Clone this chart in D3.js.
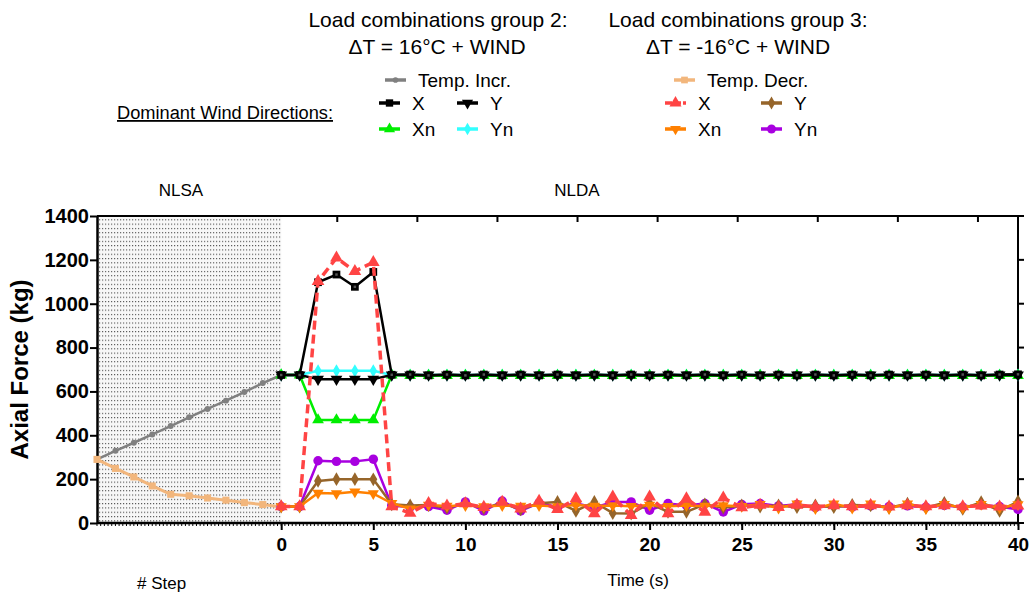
<!DOCTYPE html>
<html><head><meta charset="utf-8">
<script src="https://cdn.jsdelivr.net/npm/d3@7"></script>
<style>body{margin:0;background:#fff}svg{display:block;font-family:"Liberation Sans",Arial,sans-serif}</style>
</head><body>
<script>
// ---------- data ----------
const steps = [-10,-9,-8,-7,-6,-5,-4,-3,-2,-1,0];
const tempIncr = [290,329,366,404,442,482,520,558,597,638,675];
const tempDecr = [290,249,210,169,131,124,114,104,93,84,73];

const times = [0,1,2,3,4,5,6,7,8,9,10,11,12,13,14,15,16,17,18,19,20,21,22,23,24,25,26,27,28,29,30,31,32,33,34,35,36,37,38,39,40];
// group 2 (dT = +16C + wind)
const g2X  = [675,675,1098,1133,1077,1145,676,677,673,677,673,677,673,677,673,677,673,677,673,677,673,677,673,677,673,677,673,677,673,677,673,677,673,677,673,677,673,677,673,677,678];
const g2Y  = [675,675,656,656,656,656,675,675,675,675,675,675,675,675,675,675,675,675,675,675,675,675,675,675,675,675,675,675,675,675,675,675,675,675,675,675,675,675,675,675,675];
const g2Xn = [675,675,470,470,470,470,675,672,672,672,672,672,672,672,672,672,672,672,672,672,672,672,672,672,672,672,672,672,672,672,672,672,672,672,672,672,672,672,672,672,672];
const g2Yn = [675,675,694,694,694,694,675,675,675,675,675,675,675,675,675,675,675,675,675,675,675,675,675,675,675,675,675,675,675,675,675,675,675,675,675,675,675,675,675,675,675];
// group 3 (dT = -16C + wind)
const g3X  = [75,75,1102,1209,1148,1189,75,45,90,78,88,72,95,65,100,62,111,43,119,35,119,43,111,50,115,70,82,72,82,74,80,75,80,74,80,75,80,75,78,74,78];
const g3Y  = [75,75,192,200,200,199,85,80,82,70,88,68,90,62,90,96,55,96,45,43,89,51,51,85,70,80,75,80,72,80,72,82,80,70,88,70,92,64,95,55,98];
const g3Xn = [75,75,137,134,142,134,90,65,82,78,80,75,80,78,80,75,82,78,80,76,82,76,80,78,80,76,85,68,88,66,88,68,88,66,88,66,86,68,86,70,84];
const g3Yn = [75,75,284,281,281,291,80,72,75,58,96,55,100,55,92,72,90,70,96,96,58,89,80,89,50,85,89,78,85,70,80,72,78,75,78,72,80,72,82,75,62];

const yTicks = [0,200,400,600,800,1000,1200,1400];
const xTicks = [0,5,10,15,20,25,30,35,40];
const topTicks = [3,4,5,6,7,8,9,10,11];

// ---------- layout ----------
const W = 1034, H = 597;
const svg = d3.select("body").append("svg").attr("width", W).attr("height", H);
const x = d3.scaleLinear().domain([-10, 40]).range([97, 1018]);
const y = d3.scaleLinear().domain([0, 1400]).range([523, 216]);
const xTop = d3.scaleLinear().domain([0, 11.5]).range([97, 1018]);

const defs = svg.append("defs");
const pat = defs.append("pattern").attr("id","dots").attr("width",3).attr("height",4.3).attr("patternUnits","userSpaceOnUse");
pat.append("rect").attr("width",3).attr("height",4.3).attr("fill","#f7f7f7");
pat.append("rect").attr("width",1.2).attr("height",1.1).attr("fill","#555");

// shaded NLSA region
svg.append("rect").attr("x", x(-10)).attr("y", y(1400)).attr("width", x(0)-x(-10)).attr("height", y(0)-y(1400)).attr("fill","url(#dots)");

// frame: top axis & right axis
svg.append("line").attr("x1",x(-10)).attr("x2",x(40)).attr("y1",y(1400)).attr("y2",y(1400)).attr("stroke","#000").attr("stroke-width",2);
svg.selectAll(".tt").data(topTicks).join("line").attr("x1",d=>xTop(d)).attr("x2",d=>xTop(d)).attr("y1",y(1400)).attr("y2",y(1400)+6).attr("stroke","#000").attr("stroke-width",2);
svg.append("line").attr("x1",x(40)).attr("x2",x(40)).attr("y1",y(0)).attr("y2",y(1400)).attr("stroke","#000").attr("stroke-width",2);
svg.selectAll(".rt").data(yTicks).join("line").attr("x1",x(40)).attr("x2",x(40)+6).attr("y1",d=>y(d)).attr("y2",d=>y(d)).attr("stroke","#000").attr("stroke-width",2);

// bottom axis with minor ticks
const minor = d3.range(-10, 40.001, 0.2);
svg.selectAll(".mt").data(minor).join("line").attr("x1",d=>x(d)).attr("x2",d=>x(d)).attr("y1",y(0)).attr("y2",y(0)+3).attr("stroke","#000").attr("stroke-width",1);
const xAxis = svg.append("g").attr("transform",`translate(0,${y(0)})`)
  .call(d3.axisBottom(x).tickValues(xTicks).tickSize(7).tickSizeOuter(0).tickFormat(d3.format("d")));
xAxis.select(".domain").attr("stroke-width",2.5).attr("d",`M${x(-10)},0H${x(40)}`);
xAxis.selectAll(".tick line").attr("stroke-width",2);
xAxis.selectAll("text").attr("font-size",19).attr("font-weight","bold").attr("font-family","Liberation Sans, Arial").attr("dy","0.95em");

// left axis
const yAxis = svg.append("g").attr("transform",`translate(${x(-10)},0)`)
  .call(d3.axisLeft(y).tickValues(yTicks).tickSize(7).tickSizeOuter(0).tickFormat(d3.format("d")));
yAxis.select(".domain").attr("stroke-width",2.5);
yAxis.selectAll(".tick line").attr("stroke-width",2);
yAxis.selectAll("text").attr("font-size",20).attr("font-weight","bold").attr("font-family","Liberation Sans, Arial").attr("x",-8);

svg.append("text").attr("transform",`translate(28,${(y(0)+y(1400))/2}) rotate(-90)`).attr("text-anchor","middle")
  .attr("font-size",24).attr("font-weight","bold").text("Axial Force (kg)");

svg.append("text").attr("x",638).attr("y",586).attr("text-anchor","middle").attr("font-size",17).text("Time (s)");
svg.append("text").attr("x",137).attr("y",589).attr("font-size",17).text("# Step");
svg.append("text").attr("x",181).attr("y",196).attr("text-anchor","middle").attr("font-size",17).text("NLSA");
svg.append("text").attr("x",577).attr("y",196).attr("text-anchor","middle").attr("font-size",17).text("NLDA");

// ---------- series ----------
const line = d3.line().x(d=>x(d[0])).y(d=>y(d[1]));
function zip(xs, ys){ return xs.map((v,i)=>[v, ys[i]]); }

const series = [
  {xs:steps, ys:tempIncr, color:"#808080", sym:d3.symbolCircle, size:28, width:2.5},
  {xs:steps, ys:tempDecr, color:"#f2b67c", sym:d3.symbolSquare, size:50, width:3},
  {xs:times, ys:g2Yn, color:"#33ffff", sym:d3.symbolDiamond, size:50, width:2.5},
  {xs:times, ys:g2Xn, color:"#00ee00", sym:d3.symbolTriangle, size:60, width:2.5},
  {xs:times, ys:g2Y,  color:"#000000", sym:d3.symbolTriangle, rot:180, size:60, width:2.5},
  {xs:times, ys:g2X,  color:"#000000", sym:d3.symbolSquare, size:60, width:2.5, inner:true},
  {xs:times, ys:g3Yn, color:"#a800e0", sym:d3.symbolCircle, size:70, width:2.5},
  {xs:times, ys:g3Y,  color:"#96652a", sym:d3.symbolDiamond, size:55, width:2.5},
  {xs:times, ys:g3Xn, color:"#ff8000", sym:d3.symbolTriangle, rot:180, size:55, width:2.5},
  {xs:times, ys:g3X,  color:"#ff4444", sym:d3.symbolTriangle, size:70, width:3.5, dash:"9,5"},
];

series.forEach(s=>{
  const pts = zip(s.xs, s.ys);
  const g = svg.append("g");
  g.append("path").attr("d", line(pts)).attr("fill","none").attr("stroke", s.color)
    .attr("stroke-width", s.width).attr("stroke-dasharray", s.dash||null).attr("stroke-linejoin","round");
  g.selectAll("path.m").data(pts).join("path").attr("class","m")
    .attr("transform", d=>`translate(${x(d[0])},${y(d[1])}) rotate(${s.rot||0})`)
    .attr("d", d3.symbol(s.sym, s.size)).attr("fill", s.color);
  if (s.inner) g.selectAll("path.i").data(pts).join("path").attr("class","i")
    .attr("transform", d=>`translate(${x(d[0])},${y(d[1])})`)
    .attr("d", d3.symbol(d3.symbolSquare, 6)).attr("fill", "#555");
});

// ---------- legend ----------
function legendItem(x0, yc, s, label){
  const g = svg.append("g");
  g.append("line").attr("x1",x0).attr("x2",x0+21).attr("y1",yc).attr("y2",yc).attr("stroke",s.color)
    .attr("stroke-width",3.5).attr("stroke-dasharray", s.dash ? "7,2" : null);
  g.append("path").attr("transform",`translate(${x0+10.5},${yc}) rotate(${s.rot||0})`)
    .attr("d", d3.symbol(s.sym, s.size*0.9)).attr("fill", s.color);
  g.append("text").attr("x", x0+33).attr("y", yc+7).attr("font-size",19).text(label);
}
svg.append("text").attr("x",438).attr("y",27).attr("text-anchor","middle").attr("font-size",21).text("Load combinations group 2:");
svg.append("text").attr("x",437).attr("y",54).attr("text-anchor","middle").attr("font-size",21).text("ΔT = 16°C + WIND");
svg.append("text").attr("x",738).attr("y",27).attr("text-anchor","middle").attr("font-size",21).text("Load combinations group 3:");
svg.append("text").attr("x",738).attr("y",54).attr("text-anchor","middle").attr("font-size",21).text("ΔT = -16°C + WIND");

legendItem(385, 80, series[0], "Temp. Incr.");
legendItem(379, 103, series[5], "X");
legendItem(457, 103, series[4], "Y");
legendItem(379, 129, series[3], "Xn");
legendItem(457, 129, series[2], "Yn");
legendItem(674, 80, series[1], "Temp. Decr.");
legendItem(665, 103, series[9], "X");
legendItem(761, 103, series[7], "Y");
legendItem(665, 129, series[8], "Xn");
legendItem(761, 129, series[6], "Yn");

svg.append("text").attr("x",117).attr("y",119).attr("font-size",18).attr("text-decoration","underline")
  .attr("textLength",216).attr("lengthAdjust","spacingAndGlyphs").text("Dominant Wind Directions:");
</script>
</body></html>
